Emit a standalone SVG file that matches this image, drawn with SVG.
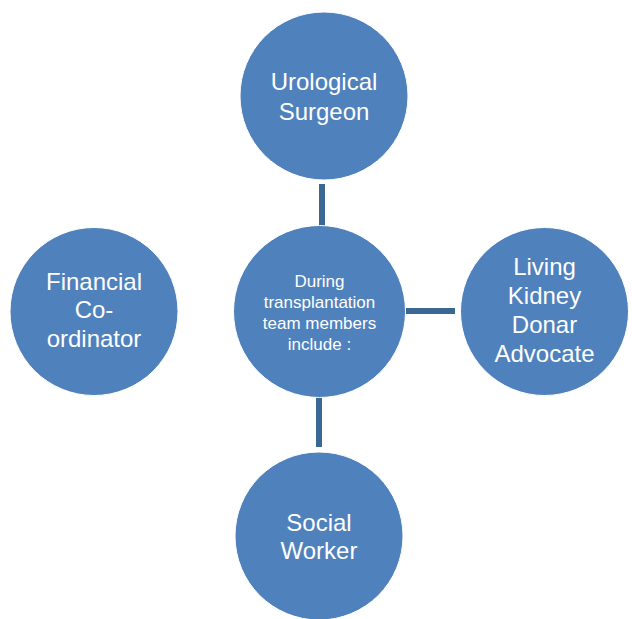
<svg xmlns="http://www.w3.org/2000/svg" width="632" height="619" viewBox="0 0 632 619">
<style>
.node{fill:#4f81bd;stroke:#ffffff;stroke-width:1}
.lbl{font-family:"Liberation Sans",Arial,sans-serif;font-size:24px;fill:#ffffff;text-anchor:middle}
.sm{font-size:17px}
.conn{stroke:#3b6795;stroke-width:6;fill:none}
</style>
<rect width="632" height="619" fill="#ffffff"/>
<g id="connectors">
<line class="conn" x1="322" y1="184" x2="322" y2="227"/>
<line class="conn" x1="406" y1="311" x2="455" y2="311"/>
<line class="conn" x1="319" y1="397" x2="319" y2="447"/>
</g>
<g id="node-center">
<circle class="node" cx="319.5" cy="311.5" r="86"/>
<text class="lbl sm" x="319.5" y="287">During</text>
<text class="lbl sm" x="319.5" y="308">transplantation</text>
<text class="lbl sm" x="319.5" y="329">team members</text>
<text class="lbl sm" x="319.5" y="350">include :</text>
</g>
<g id="node-urological">
<circle class="node" cx="324" cy="96" r="84"/>
<text class="lbl" x="324" y="90">Urological</text>
<text class="lbl" x="324" y="120">Surgeon</text>
</g>
<g id="node-financial">
<circle class="node" cx="94" cy="311.5" r="84"/>
<text class="lbl" x="94" y="290">Financial</text>
<text class="lbl" x="94" y="318">Co-</text>
<text class="lbl" x="94" y="347">ordinator</text>
</g>
<g id="node-living">
<circle class="node" cx="544.5" cy="311.5" r="84"/>
<text class="lbl" x="544.5" y="275">Living</text>
<text class="lbl" x="544.5" y="304">Kidney</text>
<text class="lbl" x="544.5" y="333">Donar</text>
<text class="lbl" x="544.5" y="362">Advocate</text>
</g>
<g id="node-social">
<circle class="node" cx="319" cy="536" r="84"/>
<text class="lbl" x="319" y="531">Social</text>
<text class="lbl" x="319" y="559">Worker</text>
</g>
</svg>
